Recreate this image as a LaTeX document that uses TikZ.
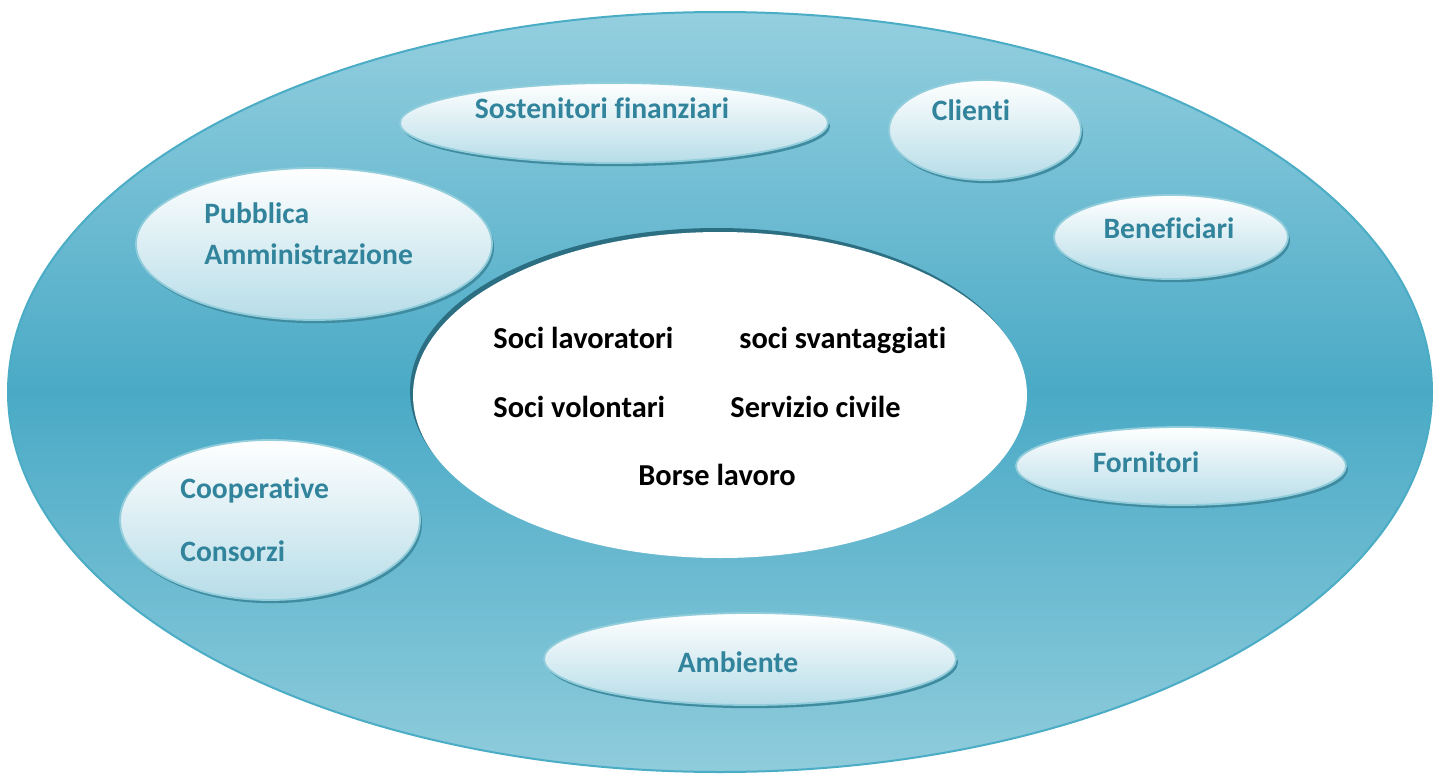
\documentclass[tikz,border=0pt]{standalone}
\usepackage{fontspec}
\setmainfont{Carlito}[Ligatures=NoCommon]
\usetikzlibrary{shapes.geometric,shadows}
\definecolor{tealtxt}{HTML}{31849B}
\definecolor{bigtop}{HTML}{94CFDF}
\definecolor{bigbot}{HTML}{8FCCDC}
\definecolor{bigmid}{HTML}{4AAAC6}
\definecolor{bigborder}{HTML}{4BACC6}
\definecolor{bubblebot}{HTML}{B7DDE8}
\definecolor{bubbleborder}{HTML}{92CDDC}
\definecolor{shadowc}{HTML}{3F8CA1}
\definecolor{innershadow}{HTML}{2C6F82}
\begin{document}
\begin{tikzpicture}[x=0.5pt,y=-0.5pt,
  bubble/.style={ellipse, draw=bubbleborder, line width=0.9pt, top color=white, bottom color=bubblebot,
    drop shadow={shadow xshift=1pt, shadow yshift=-1.6pt, fill=shadowc, opacity=1}, inner sep=0pt},
  lbl/.style={text=tealtxt, font=\bfseries\fontsize{14.8}{17}\selectfont, inner sep=0pt},
  inlbl/.style={text=black, font=\bfseries\fontsize{15.2}{17}\selectfont, inner sep=0pt, anchor=base west}]
\useasboundingbox (0,0) rectangle (1440,776);
% outer ring
\node[ellipse, minimum width=712pt, minimum height=380pt, draw=bigborder, line width=1pt,
  top color=bigtop, bottom color=bigbot, middle color=bigmid, inner sep=0pt] (outer) at (720,392) {};
% inner white ellipse with shadow
\node[ellipse, fill=innershadow, minimum width=307pt, minimum height=163pt, inner sep=0pt] (innersh) at (717,391) {};
\node[ellipse, fill=white, minimum width=307pt, minimum height=163pt, inner sep=0pt] (inner) at (720,395) {};
% bubbles
\node[bubble, minimum width=214pt, minimum height=40pt] (sost) at (614,123) {};
\node[lbl, anchor=base] (tsost) at (602,118) {Sostenitori finanziari};
\node[bubble, minimum width=96pt, minimum height=50pt] (cli) at (985,130) {};
\node[lbl, anchor=base] (tcli) at (971,120) {Clienti};
\node[bubble, minimum width=117pt, minimum height=42pt] (ben) at (1171,237) {};
\node[lbl, anchor=base] (tben) at (1169,238) {Beneficiari};
\node[bubble, minimum width=178pt, minimum height=76pt] (pa) at (314,244) {};
\node[lbl, anchor=base west] (tpa1) at (204,223) {Pubblica};
\node[lbl, anchor=base west] (tpa2) at (204,264) {Amministrazione};
\node[bubble, minimum width=150pt, minimum height=80pt] (coop) at (270,520) {};
\node[lbl, anchor=base west] (tcoop1) at (180,498) {Cooperative};
\node[lbl, anchor=base west] (tcoop2) at (180,561) {Consorzi};
\node[bubble, minimum width=165pt, minimum height=39pt] (forn) at (1181,466) {};
\node[lbl, anchor=base] (tforn) at (1146,472) {Fornitori};
\node[bubble, minimum width=206pt, minimum height=46pt] (amb) at (750,659) {};
\node[lbl, anchor=base] (tamb) at (738,672) {Ambiente};
% inner texts
\node[inlbl] (s1) at (493,348) {Soci lavoratori};
\node[inlbl] (s2) at (739,348) {soci svantaggiati};
\node[inlbl] (s3) at (493,417) {Soci volontari};
\node[inlbl] (s4) at (730,417) {Servizio civile};
\node[inlbl] (s5) at (638,485) {Borse lavoro};
\end{tikzpicture}
\end{document}
